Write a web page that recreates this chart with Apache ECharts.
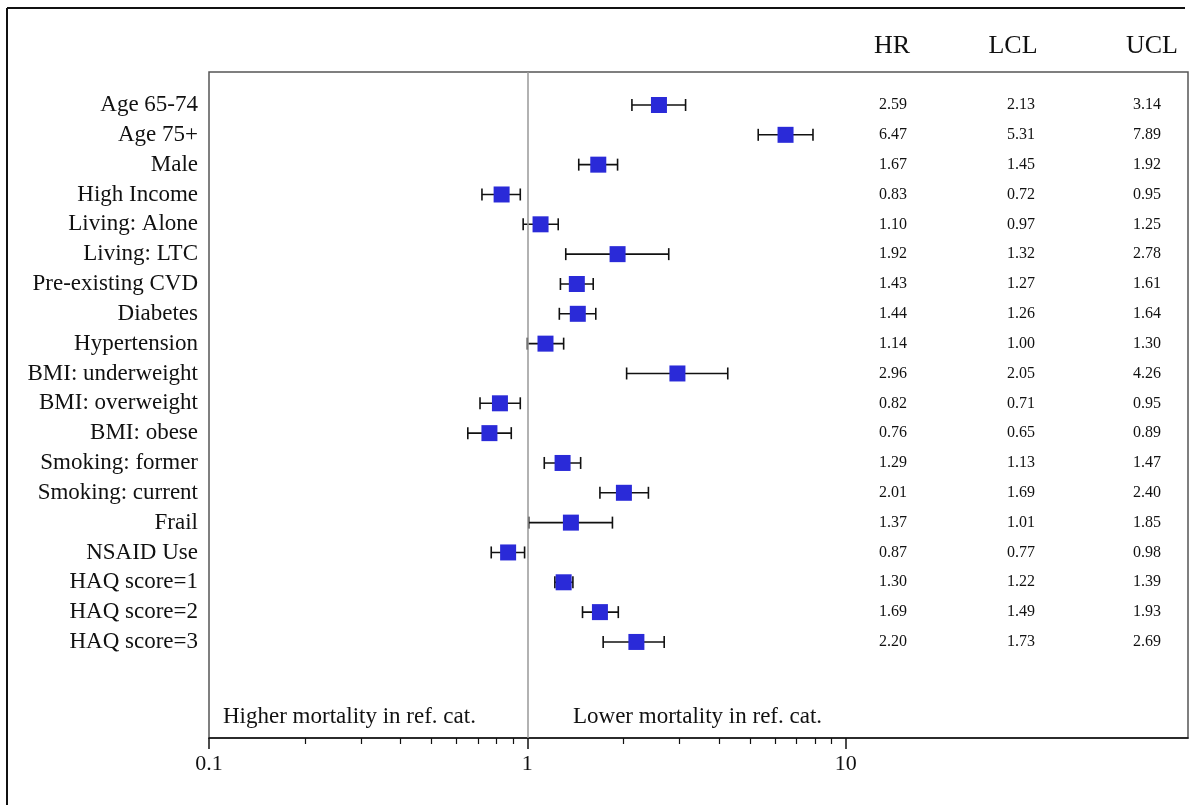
<!DOCTYPE html>
<html>
<head>
<meta charset="utf-8">
<title>Hazard ratios</title>
<script src="https://cdn.jsdelivr.net/npm/echarts@6/dist/echarts.min.js"></script>
<style>
  html, body { margin: 0; padding: 0; background: #fff; }
  #chart { width: 1195px; height: 805px; }
</style>
</head>
<body>
<div id="chart"></div>
<script>
// rows, top to bottom
const labels = ['Age 65-74', 'Age 75+', 'Male', 'High Income', 'Living: Alone', 'Living: LTC',
  'Pre-existing CVD', 'Diabetes', 'Hypertension', 'BMI: underweight', 'BMI: overweight',
  'BMI: obese', 'Smoking: former', 'Smoking: current', 'Frail', 'NSAID Use',
  'HAQ score=1', 'HAQ score=2', 'HAQ score=3'];
const hr  = [2.59, 6.47, 1.67, 0.83, 1.10, 1.92, 1.43, 1.44, 1.14, 2.96, 0.82, 0.76, 1.29, 2.01, 1.37, 0.87, 1.30, 1.69, 2.20];
const lcl = [2.13, 5.31, 1.45, 0.72, 0.97, 1.32, 1.27, 1.26, 1.00, 2.05, 0.71, 0.65, 1.13, 1.69, 1.01, 0.77, 1.22, 1.49, 1.73];
const ucl = [3.14, 7.89, 1.92, 0.95, 1.25, 2.78, 1.61, 1.64, 1.30, 4.26, 0.95, 0.89, 1.47, 2.40, 1.85, 0.98, 1.39, 1.93, 2.69];
const majorTicks = [0.1, 1, 10];
const minorTicks = [0.2, 0.3, 0.4, 0.5, 0.6, 0.7, 0.8, 0.9, 2, 3, 4, 5, 6, 7, 8, 9];
const columns = ['HR', 'LCL', 'UCL'];

const log = v => Math.log10(v);
const serif = '"Liberation Serif", "DejaVu Serif", serif';
const colX = [893, 1021, 1147];   // pixel centres of the table numbers
const headX = [892, 1013, 1152];  // pixel centres of the column headers

const chart = echarts.init(document.getElementById('chart'));

const xBase = {
  type: 'value', min: -1, max: 2.075, gridIndex: 0, position: 'bottom',
  splitLine: { show: false }
};

chart.setOption({
  animation: false,
  backgroundColor: '#fff',
  grid: { left: 209, top: 72, right: 7, bottom: 67, show: true, borderColor: '#555', borderWidth: 1.5 },
  xAxis: [
    Object.assign({}, xBase, {
      axisLine: { show: true, onZero: false, lineStyle: { color: '#111', width: 1.5 } },
      axisTick: { show: true, length: 11, lineStyle: { color: '#111', width: 1.5 }, customValues: majorTicks.map(log) },
      axisLabel: {
        show: true, margin: 15, fontSize: 22, color: '#111', fontFamily: serif,
        customValues: majorTicks.map(log),
        formatter: v => String(majorTicks.find(t => Math.abs(log(t) - v) < 1e-6))
      }
    }),
    Object.assign({}, xBase, {
      axisLine: { show: false, onZero: false },
      axisTick: { show: true, length: 6, lineStyle: { color: '#111', width: 1.2 }, customValues: minorTicks.map(log) },
      axisLabel: { show: false }
    })
  ],
  yAxis: {
    type: 'value', inverse: true, min: -1.106, max: 21.22,
    axisLine: { show: false }, axisTick: { show: false }, splitLine: { show: false },
    axisLabel: {
      margin: 11, fontSize: 23, color: '#111', fontFamily: serif,
      customValues: labels.map((_, i) => i),
      formatter: v => labels[Math.round(v)]
    }
  },
  graphic: [
    { type: 'line', shape: { x1: 7, y1: 8, x2: 1185, y2: 8 }, style: { stroke: '#111', lineWidth: 2 } },
    { type: 'line', shape: { x1: 7, y1: 8, x2: 7, y2: 805 }, style: { stroke: '#111', lineWidth: 2 } }
  ].concat(columns.map((c, k) => ({
    type: 'text', x: headX[k], y: 46,
    style: { text: c, font: '26px ' + serif, fill: '#111', textAlign: 'center', textVerticalAlign: 'middle' }
  }))).concat([
    { type: 'text', x: 223, y: 717, style: { text: 'Higher mortality in ref. cat.', font: '23px ' + serif, fill: '#111', textVerticalAlign: 'middle' } },
    { type: 'text', x: 573, y: 717, style: { text: 'Lower mortality in ref. cat.', font: '23px ' + serif, fill: '#111', textVerticalAlign: 'middle' } }
  ]),
  series: [
    {
      // confidence interval whiskers
      type: 'custom',
      xAxisIndex: 0,
      data: labels.map((_, i) => [log(lcl[i]), log(ucl[i]), i]),
      encode: { x: [0, 1], y: 2 },
      renderItem: (params, api) => {
        const a = api.coord([api.value(0), api.value(2)]);
        const b = api.coord([api.value(1), api.value(2)]);
        const st = { stroke: '#111', lineWidth: 1.6 };
        return {
          type: 'group',
          children: [
            { type: 'line', shape: { x1: a[0], y1: a[1], x2: b[0], y2: b[1] }, style: st },
            { type: 'line', shape: { x1: a[0], y1: a[1] - 6, x2: a[0], y2: a[1] + 6 }, style: st },
            { type: 'line', shape: { x1: b[0], y1: b[1] - 6, x2: b[0], y2: b[1] + 6 }, style: st }
          ]
        };
      }
    },
    {
      type: 'scatter',
      xAxisIndex: 0,
      symbol: 'rect',
      symbolSize: 16,
      itemStyle: { color: '#2a2ad8', opacity: 1 },
      data: labels.map((_, i) => [log(hr[i]), i]),
      z: 5,
      markLine: {
        silent: true, symbol: 'none', label: { show: false },
        lineStyle: { color: '#999', width: 1.5, type: 'solid' },
        data: [{ xAxis: 0 }]
      }
    },
    {
      // HR / LCL / UCL table on the right
      type: 'custom',
      xAxisIndex: 0,
      data: labels.map((_, i) => [i, hr[i], lcl[i], ucl[i]]),
      renderItem: (params, api) => {
        const y = api.coord([0, api.value(0)])[1];
        return {
          type: 'group',
          children: [1, 2, 3].map(k => ({
            type: 'text', x: colX[k - 1], y: y,
            style: { text: api.value(k).toFixed(2), font: '16px ' + serif, fill: '#111', textAlign: 'center', textVerticalAlign: 'middle' }
          }))
        };
      }
    }
  ]
});
</script>
</body>
</html>
